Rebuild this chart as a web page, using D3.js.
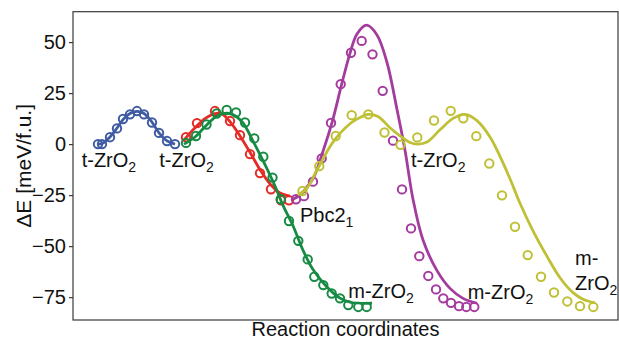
<!DOCTYPE html>
<html>
<head>
<meta charset="utf-8">
<script src="https://cdn.jsdelivr.net/npm/d3@7"></script>
<style>
  body { margin: 0; background: #fff; }
  text { font-family: "Liberation Sans", Arial, sans-serif; fill: #111; }
</style>
</head>
<body>
<div id="chart"></div>
<script>
// reaction coordinate (arbitrary units) and energies in meV/f.u.
const yTicks = [50, 25, 0, -25, -50, -75];

// t -> t (blue)
const blueX = [25, 29, 37, 44, 50, 57, 64, 71, 79, 86, 94, 102];
const blueDots = [0, 0, 3.4, 7.7, 12.3, 14.6, 16.2, 14.6, 10.6, 5.5, 1.5, 0];
const blueFit = [0, 0.3, 3.5, 7.9, 12, 15, 16, 15, 10.8, 5.5, 1.6, 0];

// t -> Pbc21 (red)
const redX = [113, 124, 142, 157, 167, 177, 187, 198, 208, 216];
const redDots = [3.4, 10.3, 16.2, 11.3, 4.4, -4.9, -14.2, -22.1, -27.5, -27.5];
const redFitX = [111, 122, 132, 142, 149, 157, 167, 177, 187, 197, 207, 217];
const redFit = [2, 8, 12.5, 15, 14.8, 11, 4, -4, -12.5, -19.5, -24, -25.5];

// t -> m (green)
const greenX = [113, 123, 133.5, 143.7, 153.7, 163, 172, 181.3, 190.3, 199.5, 207.7,
  216, 225.3, 234.7, 241.3, 250.3, 258.7, 267, 275.3, 285.3, 293.7];
const greenDots = [0.6, 4.0, 9.6, 15.0, 16.7, 15.5, 10.6, 2.8, -6.2, -16.4, -27,
  -37.7, -47.4, -56.5, -65, -69.1, -73.2, -75.6, -78.9, -79.8, -79.8];
const greenFitX = [111, 122, 132, 145, 157, 169, 180, 192, 202, 210, 220, 230, 240, 253, 267, 277, 299];
const greenFit = [0, 3.5, 8.5, 14.2, 15, 11, 1.5, -10, -20.5, -30, -40, -52, -61.5, -69.5, -75.5, -77.5, -78];

// Pbc21 -> m (purple)
const purpleX = [223, 231, 240, 248.7, 258, 267.7, 278, 288.7, 299.5, 309.7, 320,
  329, 338, 346.3, 355.3, 363, 370.3, 378, 386, 393.3, 401.3];
const purpleDots = [-27, -25.5, -18.4, -7.0, 10.4, 29.4, 44.8, 50.6, 44.0, 26.1, 1.7,
  -22.2, -41.3, -54.9, -64.6, -71.2, -75.6, -77.8, -79.4, -79.8, -79.8];
const purpleFitX = [220, 227, 234, 241, 249, 259, 269, 277, 284, 293.7, 304, 314, 324,
  332, 340, 350, 364, 377, 390, 404];
const purpleFit = [-27, -25, -21, -16, -5, 10.5, 30, 44.5, 54, 58.3, 53.5, 40, 17,
  -3, -27, -47, -62, -70.7, -75.6, -78];

// Pbc21 -> t -> m (yellow)
const yellowX = [229.5, 246.3, 262.7, 278.7, 295.3, 311.5, 327.5, 344.3, 361, 377.7,
  390.3, 403.3, 416.3, 429, 442, 454.7, 468, 481, 494.3, 507, 520.3];
const yellowDots = [-23, -10.8, 4.0, 14.2, 14.6, 5.7, -0.3, 3.3, 11.6, 16.3, 12.7,
  3.9, -9.5, -25.1, -40.5, -54.4, -65, -72.7, -77.1, -79.4, -79.8];
const yellowFitX = [225, 234, 244, 260, 277, 289, 295, 305, 317, 327, 337, 345, 354,
  367, 380, 392, 404, 417, 427, 437, 447, 460, 474, 487, 500, 510, 522];
const yellowFit = [-25, -21.5, -12.7, 1, 10, 13.5, 14.6, 13.5, 8, 4, 0.8, 0, 1, 7,
  12.6, 14.6, 11.5, 3.5, -6, -17, -29, -42.5, -55, -65.5, -72.8, -76, -77.8];

const series = [
  { color: "#3f5ba3", dx: blueX, dy: blueDots, fx: blueX, fy: blueFit },
  { color: "#e52b25", dx: redX, dy: redDots, fx: redFitX, fy: redFit },
  { color: "#178a44", dx: greenX, dy: greenDots, fx: greenFitX, fy: greenFit },
  { color: "#a43c9e", dx: purpleX, dy: purpleDots, fx: purpleFitX, fy: purpleFit },
  { color: "#bec035", dx: yellowX, dy: yellowDots, fx: yellowFitX, fy: yellowFit }
];

// state labels: [main text, subscript, x, y] in data units
const labels = [
  ["t-ZrO", "2", 8.7, -11.3],
  ["t-ZrO", "2", 86.3, -11.3],
  ["Pbc2", "1", 227, -38.2],
  ["t-ZrO", "2", 338, -11.3],
  ["m-ZrO", "2", 275.3, -75.2],
  ["m-ZrO", "2", 394.7, -76],
  ["m-", "", 502, -59.3],
  ["ZrO", "2", 502, -71.5]
];

const margin = { top: 11.7, right: 1, bottom: 20, left: 73 },
  width = 619 - margin.left - margin.right,
  height = 340 - margin.top - margin.bottom;

const svg = d3.select("#chart")
  .append("svg")
  .attr("width", 619)
  .attr("height", 340);

const g = svg.append("g")
  .attr("transform", "translate(" + margin.left + "," + margin.top + ")");

const x = d3.scaleLinear().domain([0, 545]).range([0, width]);
const y = d3.scaleLinear().domain([-86.2, 64.9]).range([height, 0]);

// frame
g.append("rect")
  .attr("width", width)
  .attr("height", height)
  .attr("fill", "none")
  .attr("stroke", "#3a3a3a")
  .attr("stroke-width", 1.2);

// y axis
const yAxis = g.append("g")
  .call(d3.axisLeft(y).tickValues(yTicks).tickSize(4).tickPadding(3)
    .tickFormat(d => d < 0 ? "\u2212" + Math.abs(d) : d));
yAxis.select(".domain").remove();
yAxis.selectAll(".tick line").attr("stroke", "#3a3a3a").attr("stroke-width", 1.2);
yAxis.selectAll(".tick text")
  .style("font-size", "20px")
  .style("font-family", "Liberation Sans, Arial, sans-serif")
  .attr("fill", "#111");

// axis titles
svg.append("text")
  .attr("transform", "translate(31," + (margin.top + height / 2) + ") rotate(-90)")
  .attr("text-anchor", "middle")
  .style("font-size", "21px")
  .text("\u0394E [meV/f.u.]");

svg.append("text")
  .attr("x", margin.left + width / 2)
  .attr("y", 336)
  .attr("text-anchor", "middle")
  .style("font-size", "20px")
  .text("Reaction coordinates");

const line = d3.line()
  .x(d => x(d[0]))
  .y(d => y(d[1]))
  .curve(d3.curveCatmullRom.alpha(0.5));

series.forEach(s => {
  const fitPts = s.fx.map((v, i) => [v, s.fy[i]]);
  const dotPts = s.dx.map((v, i) => [v, s.dy[i]]);

  g.append("path")
    .datum(fitPts)
    .attr("d", line)
    .attr("fill", "none")
    .attr("stroke", s.color)
    .attr("stroke-width", 2.8)
    .attr("stroke-linejoin", "round");

  g.selectAll(null)
    .data(dotPts)
    .enter()
    .append("circle")
    .attr("cx", d => x(d[0]))
    .attr("cy", d => y(d[1]))
    .attr("r", 4.2)
    .attr("fill", "none")
    .attr("stroke", s.color)
    .attr("stroke-width", 2);
});

// state labels with subscripts
labels.forEach(l => {
  const t = g.append("text")
    .attr("x", x(l[2]))
    .attr("y", y(l[3]))
    .style("font-size", "20px");
  t.append("tspan").text(l[0]);
  if (l[1]) {
    t.append("tspan")
      .attr("dy", 5)
      .style("font-size", "14px")
      .text(l[1]);
  }
});
</script>
</body>
</html>
